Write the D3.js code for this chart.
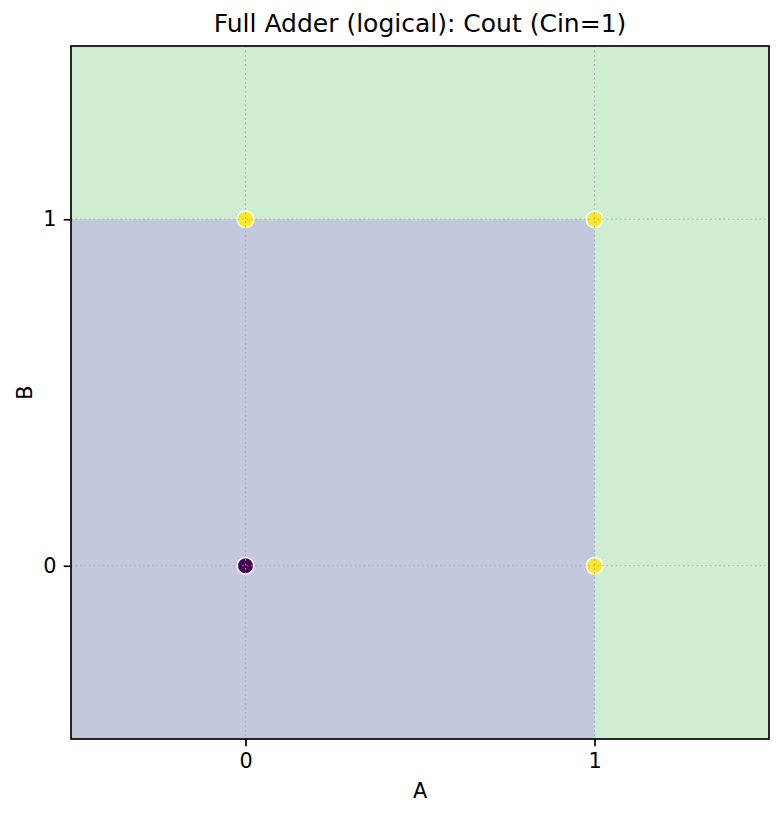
<!DOCTYPE html>
<html>
<head>
<meta charset="utf-8">
<script src="https://cdn.jsdelivr.net/npm/d3@7"></script>
<style>
  body { margin: 0; background: #fff; }
  text { font-family: "DejaVu Sans", sans-serif; fill: #000; }
</style>
</head>
<body>
<div id="chart"></div>
<script>
'use strict';

// truth table points (A, B) and Cout for Cin=1
var pointsA = [0, 0, 1, 1];
var pointsB = [0, 1, 0, 1];
var pointsCout = [0, 1, 1, 1];
var xTicks = [0, 1];
var yTicks = [0, 1];
// decision regions: [a0, a1, b0, b1, class]
var regions = [
  [-0.5, 1.5, -0.5, 1.5, 1],
  [-0.5, 1, -0.5, 1, 0]
];

var margins = { left: 71, top: 46, right: 14, bottom: 78 };
var width = 783 - margins.left - margins.right;
var height = 817 - margins.top - margins.bottom;

var svg = d3.select('#chart').append('svg')
  .attr('width', 783)
  .attr('height', 817);

var g = svg.append('g')
  .attr('transform', 'translate(' + margins.left + ',' + margins.top + ')');

var x = d3.scaleLinear().domain([-0.5, 1.5]).range([0, width]);
var y = d3.scaleLinear().domain([-0.5, 1.5]).range([height, 0]);

var regionColor = ['#c3c9dc', '#cfedd0'];
var pointColor = ['#440154', '#fde725'];

g.selectAll('rect.region')
  .data(regions)
  .enter().append('rect')
  .attr('class', 'region')
  .attr('x', function(d) { return x(d[0]); })
  .attr('width', function(d) { return x(d[1]) - x(d[0]); })
  .attr('y', function(d) { return y(d[3]); })
  .attr('height', function(d) { return y(d[2]) - y(d[3]); })
  .attr('fill', function(d) { return regionColor[d[4]]; });

g.selectAll('circle.pt')
  .data(pointsA)
  .enter().append('circle')
  .attr('class', 'pt')
  .attr('cx', function(d) { return x(d); })
  .attr('cy', function(d, i) { return y(pointsB[i]); })
  .attr('r', 8.3)
  .attr('fill', function(d, i) { return pointColor[pointsCout[i]]; })
  .attr('stroke', '#fff')
  .attr('stroke-width', 1.5);

// grid (drawn on top, like the reference)
g.append('g')
  .selectAll('line')
  .data(xTicks)
  .enter().append('line')
  .attr('x1', function(d) { return x(d); })
  .attr('x2', function(d) { return x(d); })
  .attr('y1', 0)
  .attr('y2', height)
  .attr('stroke', '#aaa')
  .attr('stroke-opacity', 0.8)
  .attr('stroke-width', 1.2)
  .attr('stroke-dasharray', '1.7,2.8');

g.append('g')
  .selectAll('line')
  .data(yTicks)
  .enter().append('line')
  .attr('y1', function(d) { return y(d); })
  .attr('y2', function(d) { return y(d); })
  .attr('x1', 0)
  .attr('x2', width)
  .attr('stroke', '#aaa')
  .attr('stroke-opacity', 0.8)
  .attr('stroke-width', 1.2)
  .attr('stroke-dasharray', '1.7,2.8');

var xAxis = g.append('g')
  .attr('transform', 'translate(0,' + height + ')')
  .call(d3.axisBottom(x).tickValues(xTicks).tickFormat(d3.format('d')).tickSize(7.3).tickPadding(7.3));

var yAxis = g.append('g')
  .call(d3.axisLeft(y).tickValues(yTicks).tickFormat(d3.format('d')).tickSize(7.3).tickPadding(7.3));

[xAxis, yAxis].forEach(function(a) {
  a.select('.domain').remove();
  a.attr('font-size', null).attr('font-family', null);
  a.selectAll('text').style('font-size', '20.8px');
  a.selectAll('line').attr('stroke', '#000').attr('stroke-width', 1.67);
});

g.append('rect')
  .attr('width', width)
  .attr('height', height)
  .attr('fill', 'none')
  .attr('stroke', '#000')
  .attr('stroke-width', 1.67);

svg.append('text')
  .attr('x', margins.left + width / 2)
  .attr('y', 32)
  .attr('text-anchor', 'middle')
  .style('font-size', '25px')
  .text('Full Adder (logical): Cout (Cin=1)');

svg.append('text')
  .attr('x', margins.left + width / 2)
  .attr('y', 798)
  .attr('text-anchor', 'middle')
  .style('font-size', '20.8px')
  .text('A');

svg.append('text')
  .attr('transform', 'translate(32,' + (margins.top + height / 2) + ') rotate(-90)')
  .attr('text-anchor', 'middle')
  .style('font-size', '20.8px')
  .text('B');
</script>
</body>
</html>
